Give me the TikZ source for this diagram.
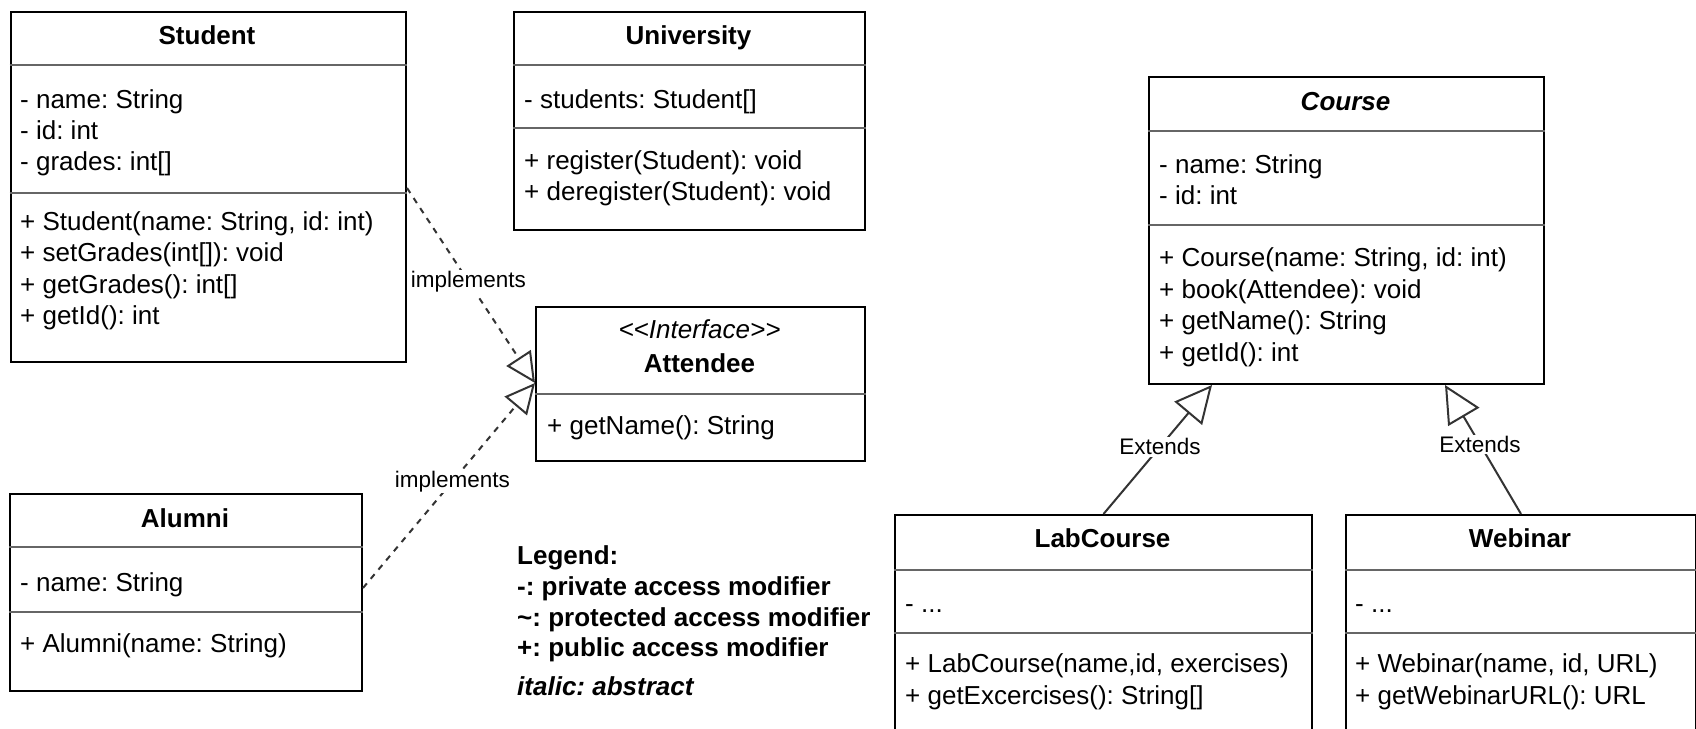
\documentclass[tikz,border=0pt]{standalone}
\usepackage{fontspec}
\setmainfont{Liberation Sans}
\usetikzlibrary{arrows.meta}
\frenchspacing
\tikzset{
  box/.style={draw=black, line width=2pt, fill=white, inner sep=0pt, anchor=north west},
  divider/.style={draw=black!60, line width=2pt},
  txt/.style={inner sep=0pt, anchor=base west, font=\fontsize{26}{31}\selectfont},
  ttl/.style={inner sep=0pt, anchor=base, font=\fontsize{26}{31}\selectfont\bfseries},
  legendtxt/.style={inner sep=0pt, anchor=base west, font=\fontsize{26}{31}\selectfont\bfseries},
  realize/.style={draw=black!80, line width=2pt, dash pattern=on 6pt off 6pt,
    -{Triangle[open, length=30pt, width=29pt, line width=2pt]}},
  gen/.style={draw=black!80, line width=2pt,
    -{Triangle[open, length=37pt, width=36pt, line width=2pt]}},
  lbl/.style={fill=white, inner sep=1.5pt, font=\fontsize{22.5}{26}\selectfont},
}
\begin{document}
\begin{tikzpicture}[x=1pt, y=-1pt]
\clip (0,0) rectangle (1696,728);
\fill[white] (0,0) rectangle (1696,728);

% ---------- Student ----------
\node[box, minimum width=395.5pt, minimum height=350pt] (student) at (9.5,11) {};
\draw[divider] (student.west |- 0,65) -- (student.east |- 0,65);
\draw[divider] (student.west |- 0,193) -- (student.east |- 0,193);
\node[ttl] (studentT) at (207,44) {Student};
\node[txt] (s1) at (20,108) {- name: String};
\node[txt] (s2) at (20,139) {- id: int};
\node[txt] (s3) at (20,170) {- grades: int[]};
\node[txt] (s4) at (20,230) {+ Student(name: String, id: int)};
\node[txt] (s5) at (20,261) {+ setGrades(int[]): void};
\node[txt] (s6) at (20,293) {+ getGrades(): int[]};
\node[txt] (s7) at (20,324) {+ getId(): int};

% ---------- University ----------
\node[box, minimum width=351pt, minimum height=218pt] (univ) at (513,11) {};
\draw[divider] (univ.west |- 0,65) -- (univ.east |- 0,65);
\draw[divider] (univ.west |- 0,128) -- (univ.east |- 0,128);
\node[ttl] (univT) at (688.5,44) {University};
\node[txt] (u1) at (524,108) {- students: Student[]};
\node[txt] (u2) at (524,169) {+ register(Student): void};
\node[txt] (u3) at (524,200) {+ deregister(Student): void};

% ---------- Attendee ----------
\node[box, minimum width=329pt, minimum height=154pt] (attendee) at (535,306) {};
\draw[divider] (attendee.west |- 0,394) -- (attendee.east |- 0,394);
\node[inner sep=0pt, anchor=base, font=\fontsize{26}{31}\selectfont\itshape] (attS) at (699.5,338) {{<}{<}Interface{>}{>}};
\node[ttl] (attT) at (699.5,372) {Attendee};
\node[txt] (a1) at (547,434) {+ getName(): String};

% ---------- Alumni ----------
\node[box, minimum width=352pt, minimum height=197pt] (alumni) at (9,493) {};
\draw[divider] (alumni.west |- 0,547) -- (alumni.east |- 0,547);
\draw[divider] (alumni.west |- 0,612) -- (alumni.east |- 0,612);
\node[ttl] (alumniT) at (185,527) {Alumni};
\node[txt] (al1) at (20,591) {- name: String};
\node[txt] (al2) at (20,652) {+ Alumni(name: String)};

% ---------- Course ----------
\node[box, minimum width=395pt, minimum height=307pt] (course) at (1148,76) {};
\draw[divider] (course.west |- 0,131) -- (course.east |- 0,131);
\draw[divider] (course.west |- 0,225) -- (course.east |- 0,225);
\node[inner sep=0pt, anchor=base, font=\fontsize{26}{31}\selectfont\bfseries\itshape] (courseT) at (1345.5,110) {Course};
\node[txt] (c1) at (1159,173) {- name: String};
\node[txt] (c2) at (1159,204) {- id: int};
\node[txt] (c3) at (1159,266) {+ Course(name: String, id: int)};
\node[txt] (c4) at (1159,298) {+ book(Attendee): void};
\node[txt] (c5) at (1159,329) {+ getName(): String};
\node[txt] (c6) at (1159,361) {+ getId(): int};

% ---------- LabCourse ----------
\node[box, minimum width=417pt, minimum height=240pt] (lab) at (894,514) {};
\draw[divider] (lab.west |- 0,570) -- (lab.east |- 0,570);
\draw[divider] (lab.west |- 0,633) -- (lab.east |- 0,633);
\node[ttl] (labT) at (1102.5,547) {LabCourse};
\node[txt] (l1) at (905,612) {- ...};
\node[txt] (l2) at (905,672) {+ LabCourse(name,id, exercises)};
\node[txt] (l3) at (905,704) {+ getExcercises(): String[]};

% ---------- Webinar ----------
\node[box, minimum width=350pt, minimum height=240pt] (web) at (1345,514) {};
\draw[divider] (web.west |- 0,570) -- (web.east |- 0,570);
\draw[divider] (web.west |- 0,633) -- (web.east |- 0,633);
\node[ttl] (webT) at (1520,547) {Webinar};
\node[txt] (w1) at (1355,612) {- ...};
\node[txt] (w2) at (1355,672) {+ Webinar(name, id, URL)};
\node[txt] (w3) at (1355,704) {+ getWebinarURL(): URL};

% ---------- Legend ----------
\node[legendtxt] (lg1) at (517,564) {Legend:};
\node[legendtxt] (lg2) at (517,595) {-: private access modifier};
\node[legendtxt] (lg3) at (517,626) {\char`\~: protected access modifier};
\node[legendtxt] (lg4) at (517,656) {+: public access modifier};
\node[legendtxt, font=\fontsize{26}{31}\selectfont\bfseries\itshape] (lg5) at (517,695) {italic: abstract};

% ---------- Connectors ----------
\draw[realize] (student.east |- 0,188) -- node[lbl, pos=0.48] {implements} (attendee.west |- 0,383);
\draw[realize] (alumni.east |- 0,588) -- node[lbl, pos=0.52] {implements} (attendee.west |- 0,383);
\draw[gen] (lab.north) -- node[lbl, pos=0.52] {Extends} (course.south -| 1212,0);
\draw[gen] (web.north) -- node[lbl, pos=0.54] {Extends} (course.south -| 1445,0);
\end{tikzpicture}
\end{document}
